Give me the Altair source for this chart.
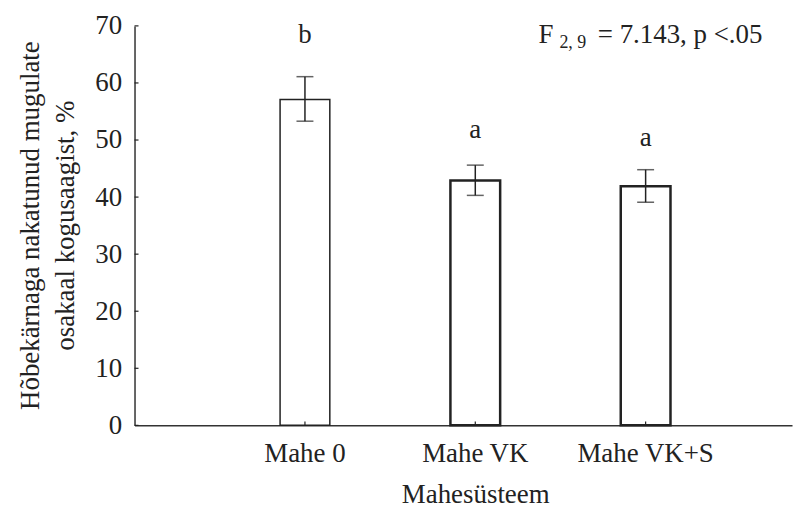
import altair as alt
import pandas as pd

# ---- data ----
categories = ["Mahe 0", "Mahe VK", "Mahe VK+S"]
means = [57.1, 42.9, 41.9]
err_low = [53.3, 40.3, 39.1]
err_high = [61.1, 45.6, 44.8]
letters = ["b", "a", "a"]
letter_y = [67.0, 50.4, 48.9]
y_ticks = [0, 10, 20, 30, 40, 50, 60, 70]
y_title = ["Hõbekärnaga nakatunud mugulate", "osakaal kogusaagist, %"]
x_title = "Mahesüsteem"
stat_main = ["F"]
stat_sub = ["2, 9"]
stat_rest = ["= 7.143, p <.05"]

df = pd.DataFrame({
    "cat": categories,
    "mean": means,
    "lo": err_low,
    "hi": err_high,
    "letter": letters,
    "ly": letter_y,
})
ticks_df = pd.DataFrame({"v": y_ticks})

W, H = 660, 401
FONT = "Liberation Serif"
INK = "#222222"
FS = 27

xscale = alt.Scale(domain=categories, paddingInner=0.708, paddingOuter=0.784, align=0.545)
yscale = alt.Scale(domain=[0, 70], nice=False, zero=True)

xaxis = alt.Axis(title=x_title, labelAngle=0, ticks=False, labelPadding=15,
                 titleX=342, titleY=69, titleBaseline="middle", grid=False)
yaxis = alt.Axis(title=y_title, values=y_ticks, ticks=False, labelPadding=13, grid=False,
                 titleAngle=270, titleX=-104, titleY=200, titleBaseline="middle",
                 titleAlign="center", titleLineHeight=35)

X = alt.X("cat:N", scale=xscale, axis=xaxis)

base = alt.Chart(df)

bars = base.mark_bar(fill="white", stroke=INK).encode(
    x=X,
    y=alt.Y("mean:Q", scale=yscale, axis=yaxis),
    strokeWidth=alt.condition(alt.datum.cat == "Mahe 0", alt.value(1.5), alt.value(2.5)),
)

err = base.mark_rule(color=INK, strokeWidth=1.5).encode(
    x=X, y=alt.Y("lo:Q", scale=yscale), y2="hi:Q"
)
cap_hi = base.mark_tick(color=INK, thickness=1.5, size=17).encode(
    x=X, y=alt.Y("hi:Q", scale=yscale)
)
cap_lo = base.mark_tick(color=INK, thickness=1.5, size=17).encode(
    x=X, y=alt.Y("lo:Q", scale=yscale)
)
labels = base.mark_text(font=FONT, fontSize=FS, color=INK, baseline="alphabetic").encode(
    x=X, y=alt.Y("ly:Q", scale=yscale), text="letter:N"
)

ytick_in = alt.Chart(ticks_df).mark_rule(color=INK, strokeWidth=1.2).encode(
    y=alt.Y("v:Q", scale=yscale), x=alt.value(0), x2=alt.value(4)
)
xtick_in = base.mark_rule(color=INK, strokeWidth=1.2).encode(
    x=X, y=alt.value(H), y2=alt.value(H - 4)
)

ann_f = alt.Chart(pd.DataFrame({"t": stat_main})).mark_text(
    font=FONT, fontSize=FS, color=INK, align="left", baseline="alphabetic"
).encode(x=alt.value(405.5), y=alt.value(17), text="t:N")
ann_sub = alt.Chart(pd.DataFrame({"t": stat_sub})).mark_text(
    font=FONT, fontSize=18, color=INK, align="left", baseline="alphabetic"
).encode(x=alt.value(426.5), y=alt.value(22), text="t:N")
ann_rest = alt.Chart(pd.DataFrame({"t": stat_rest})).mark_text(
    font=FONT, fontSize=FS, color=INK, align="left", baseline="alphabetic"
).encode(x=alt.value(465), y=alt.value(17), text="t:N")

chart = alt.layer(
    bars, err, cap_hi, cap_lo, labels, ytick_in, xtick_in, ann_f, ann_sub, ann_rest
).properties(
    width=W, height=H,
    padding={"left": 127, "top": 17, "right": 5, "bottom": 83},
    autosize=alt.AutoSizeParams(type="none"),
    background="white",
).configure_view(stroke=None).configure_axis(
    labelFont=FONT, titleFont=FONT, labelFontSize=FS, titleFontSize=FS,
    labelColor=INK, titleColor=INK, titleFontWeight="normal",
    domainColor="#333333", domainWidth=1.5,
)

chart.save("out.html", embed_options={"renderer": "svg", "actions": False})
